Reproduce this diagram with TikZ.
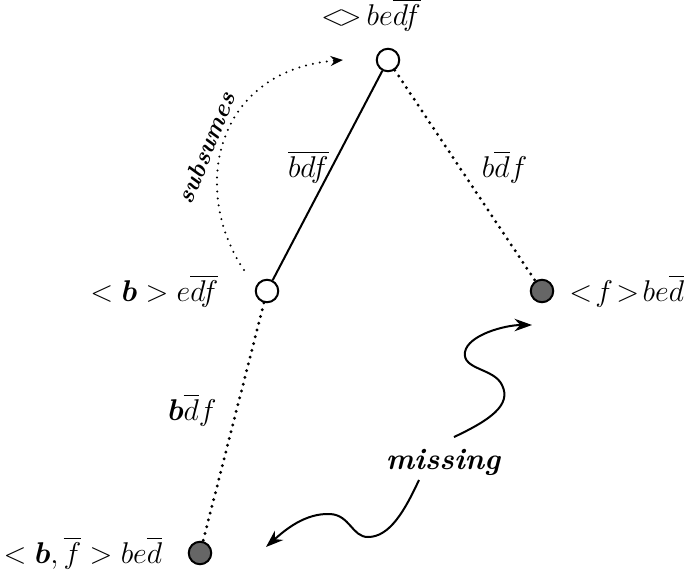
\documentclass[tikz,border=0pt]{standalone}
\usepackage{amsmath,amssymb}
\usetikzlibrary{arrows.meta,calc,positioning}

\begin{document}
\begin{tikzpicture}[x=0.4pt, y=-0.4pt, >=Stealth, node distance=4pt,
  vtx/.style={draw, circle, line width=0.8pt, minimum size=9pt, inner sep=0pt},
  hit/.style={vtx, fill=black!60},
  lbl/.style={font=\large},
  dots/.style={line width=1.3pt, line cap=round, dash pattern=on 0pt off 2.8pt},
  thin dots/.style={line width=0.9pt, line cap=round, dash pattern=on 0pt off 2.8pt},
  wavy/.style={line width=0.8pt, -{Stealth[length=7pt, width=5pt]}}]
  \useasboundingbox (0,0) rectangle (695,575);
  % lattice points
  \node[vtx] (top) at (388,60) {};
  \node[vtx] (lft) at (267,291) {};
  \node[hit] (rgt) at (542,291) {};
  \node[hit] (bot) at (200,553) {};
  \node[lbl, above=3pt of top, xshift=-6.8pt] (toplbl) {$\mathord{<}\mkern-3mu\mathord{>}\,be\overline{df}$};
  \node[lbl, left=11pt of lft] (lftlbl) {$<\boldsymbol{b}>e\overline{df}$};
  \node[lbl, right=2.5pt of rgt] (rgtlbl) {$<\!f\!>\!be\overline{d}$};
  \node[lbl, left=6.7pt of bot] (botlbl) {$<\boldsymbol{b},\overline{f}>be\overline{d}$};
  % edges
  \draw[line width=0.8pt] (top) -- node[lbl, pos=0.46, left=-2.4pt] {$\overline{bdf}$} (lft);
  \draw[dots] (top) -- node[lbl, pos=0.46, right=5pt] {$b\overline{d}f$} (rgt);
  \draw[dots] (lft) -- node[lbl, pos=0.45, left=4pt] {$\boldsymbol{b}\overline{d}f$} (bot);
  % subsumption
  \coordinate (subs) at (244,270);
  \coordinate (sube) at (343,60);
  \draw[thin dots, -{Stealth[length=5pt, width=4pt]}] (subs) .. controls (190,190) and (215,70) .. (sube);
  \node[rotate=68, font=\bfseries\itshape] (sub) at (206,148) {subsumes};
  % missing
  \node[font=\large\bfseries\itshape] (miss) at (443,462) {missing};
  \coordinate (mr) at (532,325);
  \coordinate (mb) at (266,547);
  \draw[wavy] ($(miss.north)+(11,-3)$) .. controls (490,420) and (512,405) .. (502,385)
    .. controls (494,368) and (462,370) .. (465,352)
    .. controls (468,335) and (505,325) .. (mr);
  \draw[wavy] ($(miss.south)+(-24,-4)$) .. controls (405,510) and (390,537) .. (368,537)
    .. controls (352,537) and (350,515) .. (330,514)
    .. controls (305,513) and (285,530) .. (mb);
\end{tikzpicture}
\end{document}
